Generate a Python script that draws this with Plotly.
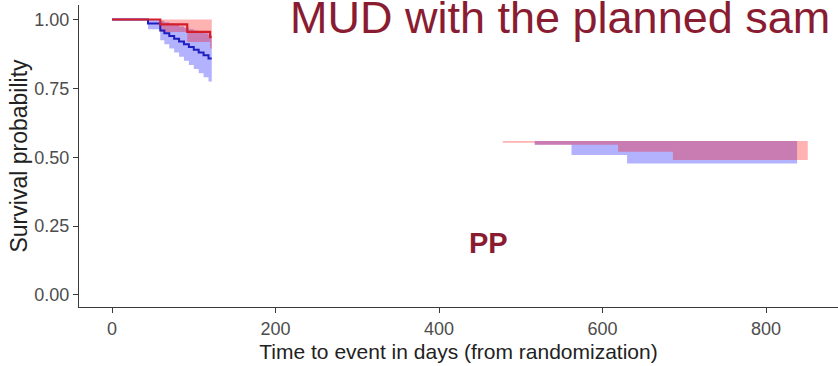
import plotly.graph_objects as go

# Kaplan-Meier estimates, early follow-up (days)
red_t = [0, 59, 92, 120, 125]
red_s = [1.0, 0.982, 0.955, 0.936, 0.936]
red_lo = [1.0, 0.955, 0.918, 0.895, 0.895]
red_hi = [1.0, 1.0, 1.0, 1.0, 1.0]

blue_t = [0, 44, 59, 64, 70, 76, 82, 88, 94, 100, 106, 112, 118, 125]
blue_s = [1.0, 0.985, 0.96, 0.95, 0.94, 0.93, 0.92, 0.91, 0.90, 0.89, 0.88, 0.87, 0.858, 0.858]
blue_lo = [1.0, 0.965, 0.925, 0.91, 0.895, 0.88, 0.865, 0.85, 0.835, 0.82, 0.805, 0.79, 0.775, 0.775]
blue_hi = [1.0, 1.0, 0.995, 0.99, 0.985, 0.98, 0.975, 0.97, 0.965, 0.96, 0.955, 0.95, 0.945, 0.945]

# Confidence bands, late follow-up
red_late_t = [478, 517, 619, 686, 851]
red_late_lo = [0.553, 0.545, 0.52, 0.49, 0.49]
red_late_hi = [0.80, 0.79, 0.77, 0.75, 0.75]

blue_late_t = [478, 517, 562, 630, 838]
blue_late_lo = [0.58, 0.545, 0.508, 0.477, 0.477]
blue_late_hi = [0.78, 0.77, 0.75, 0.73, 0.73]

x_ticks = [0, 200, 400, 600, 800]
y_ticks = [0.0, 0.25, 0.50, 0.75, 1.00]

RED_LINE = "#D41E2A"
BLUE_LINE = "#1E1EC0"
RED_FILL = "rgba(255,0,0,0.3)"
BLUE_FILL = "rgba(0,0,255,0.3)"
TITLE_RED = "#8A1C32"
FONT = "Liberation Sans, Arial, sans-serif"

fig = go.Figure()


def band(t, lo, hi, fill):
    fig.add_trace(go.Scatter(x=t, y=lo, mode="lines", line=dict(width=0, shape="hv"),
                             hoverinfo="skip", showlegend=False))
    fig.add_trace(go.Scatter(x=t, y=hi, mode="lines", line=dict(width=0, shape="hv"),
                             fill="tonexty", fillcolor=fill, hoverinfo="skip", showlegend=False))


band(blue_t, blue_lo, blue_hi, BLUE_FILL)
band(red_t, red_lo, red_hi, RED_FILL)
band(blue_late_t, blue_late_lo, blue_late_hi, BLUE_FILL)
band(red_late_t, red_late_lo, red_late_hi, RED_FILL)

fig.add_trace(go.Scatter(x=blue_t, y=blue_s, mode="lines",
                         line=dict(color=BLUE_LINE, width=2, shape="hv"), showlegend=False))
fig.add_trace(go.Scatter(x=red_t, y=red_s, mode="lines",
                         line=dict(color=RED_LINE, width=2.2, shape="hv"), showlegend=False))

# white panel laid over the middle of the plot
fig.add_shape(type="rect", xref="x", yref="y", x0=122, x1=1000, y0=0.559, y1=1.2,
              fillcolor="white", line=dict(width=0), layer="above")

fig.add_annotation(text="MUD with the planned sam", xref="paper", yref="paper",
                   x=0.276, y=0.96, xanchor="left", yanchor="middle", showarrow=False,
                   font=dict(family=FONT, size=45, color=TITLE_RED))
fig.add_annotation(text="<b>PP</b>", xref="paper", yref="paper",
                   x=0.539, y=0.212, xanchor="center", yanchor="middle", showarrow=False,
                   font=dict(family=FONT, size=29, color=TITLE_RED))

axis_common = dict(showline=True, linecolor="#3a3a3a", linewidth=1.3, ticks="outside",
                   ticklen=5, tickwidth=1.3, tickcolor="#3a3a3a", showgrid=False,
                   zeroline=False, tickfont=dict(family=FONT, size=18, color="#4d4d4d"))

fig.update_xaxes(range=[-40.4, 888], tickvals=x_ticks, **axis_common,
                 title=dict(text="Time to event in days (from randomization)",
                            font=dict(family=FONT, size=21, color="#222222"), standoff=6))
fig.update_yaxes(range=[-0.0436, 1.0526], tickvals=y_ticks, tickformat=".2f", **axis_common,
                 title=dict(text="Survival probability",
                            font=dict(family=FONT, size=23, color="#222222"), standoff=0))

fig.update_layout(width=838, height=366, margin=dict(l=79, r=0, t=5, b=59),
                  paper_bgcolor="white", plot_bgcolor="white", showlegend=False)

fig.write_html("out.html")
